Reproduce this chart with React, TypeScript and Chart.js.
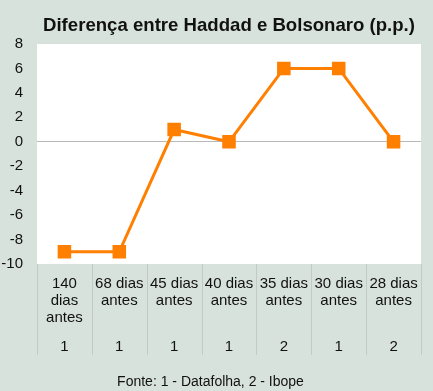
import React, { useEffect, useRef } from "react";
import { Chart, registerables } from "chart.js";

Chart.register(...registerables);

const categories: string[][] = [
  ["140", "dias", "antes"],
  ["68 dias", "antes"],
  ["45 dias", "antes"],
  ["40 dias", "antes"],
  ["35 dias", "antes"],
  ["30 dias", "antes"],
  ["28 dias", "antes"],
];
const sources: string[] = ["1", "1", "1", "1", "2", "1", "2"];
const differences: number[] = [-9, -9, 1, 0, 6, 6, 0];
const titleText = "Diferença entre Haddad e Bolsonaro (p.p.)";
const footerText = "Fonte: 1 - Datafolha, 2 - Ibope";

const BG = "#d8e2dc";
const ORANGE = "#ff7f00";
const TEXT = "#111111";
const FONT = "'Liberation Sans', Arial, sans-serif";

const decorPlugin = {
  id: "decor",
  beforeDraw(chart: any) {
    const { ctx, chartArea } = chart;
    ctx.save();
    ctx.fillStyle = "#ffffff";
    ctx.fillRect(chartArea.left, chartArea.top, chartArea.right - chartArea.left, chartArea.bottom - chartArea.top);
    ctx.restore();
  },
  afterDraw(chart: any) {
    const { ctx, chartArea } = chart;
    const xs = chart.scales.x;
    const x2 = chart.scales.x2;
    const n = categories.length;
    ctx.save();
    ctx.strokeStyle = "#c3c9c5";
    ctx.lineWidth = 1;
    for (let i = 0; i <= n; i++) {
      let px: number;
      if (i === 0) px = chartArea.left;
      else if (i === n) px = chartArea.right;
      else px = (xs.getPixelForValue(i - 1) + xs.getPixelForValue(i)) / 2;
      px = Math.round(px) + 0.5;
      ctx.beginPath();
      ctx.moveTo(px, chartArea.bottom);
      ctx.lineTo(px, x2.bottom);
      ctx.stroke();
    }
    ctx.restore();
  },
};

export default function App() {
  const ref = useRef<HTMLCanvasElement | null>(null);
  useEffect(() => {
    if (!ref.current) return;
    const chart = new Chart(ref.current, {
      type: "line",
      data: {
        labels: categories as any,
        datasets: [
          {
            data: differences,
            borderColor: ORANGE,
            backgroundColor: ORANGE,
            borderWidth: 3,
            pointStyle: "rect",
            pointRadius: 8.5,
            pointHoverRadius: 8.5,
            pointBorderWidth: 1.5,
            pointBorderColor: ORANGE,
            pointBackgroundColor: ORANGE,
            tension: 0,
          },
        ],
      },
      options: {
        responsive: false,
        animation: false,
        layout: { padding: { left: 0, right: 12, top: 0, bottom: 0 } },
        plugins: {
          legend: { display: false },
          tooltip: { enabled: false },
          title: {
            display: true,
            text: titleText,
            fullSize: false,
            color: TEXT,
            font: { family: FONT, size: 18.6, weight: "bold", lineHeight: 1.2 },
            padding: { top: 14.5, bottom: 7.2 },
          },
          subtitle: {
            display: true,
            text: footerText,
            position: "bottom",
            color: TEXT,
            font: { family: FONT, size: 14, lineHeight: 1.2 },
            padding: { top: 18.4, bottom: 0.8 },
          },
        },
        scales: {
          x: {
            type: "category",
            position: "bottom",
            weight: 0,
            offset: true,
            grid: { display: false, drawTicks: false },
            border: { display: false },
            ticks: {
              color: TEXT,
              font: { family: FONT, size: 15, lineHeight: 1.13 },
              padding: 11,
              maxRotation: 0,
              autoSkip: false,
            },
            afterFit: (s: any) => {
              s.height = 60;
            },
          },
          x2: {
            type: "category",
            position: "bottom",
            weight: 1,
            offset: true,
            labels: sources,
            grid: { display: false, drawTicks: false },
            border: { display: false },
            ticks: {
              color: TEXT,
              font: { family: FONT, size: 15, lineHeight: 1.13 },
              padding: 14,
              maxRotation: 0,
              autoSkip: false,
            },
            afterFit: (s: any) => {
              s.height = 31;
            },
          },
          y: {
            min: -10,
            max: 8,
            ticks: {
              stepSize: 2,
              color: TEXT,
              font: { family: FONT, size: 15 },
              padding: 14,
            },
            grid: {
              drawTicks: false,
              color: (c: any) => (c.tick && c.tick.value === 0 ? "#b8b8b8" : "rgba(0,0,0,0)"),
              lineWidth: 1,
            },
            border: { display: false },
            afterFit: (s: any) => {
              s.width = 37;
            },
          },
        },
      },
      plugins: [decorPlugin],
    });
    return () => chart.destroy();
  }, []);

  return (
    <div style={{ position: "absolute", left: 0, top: 0, width: 433, height: 391, background: BG }}>
      <canvas ref={ref} width={433} height={391} style={{ display: "block", width: 433, height: 391 }} />
    </div>
  );
}
